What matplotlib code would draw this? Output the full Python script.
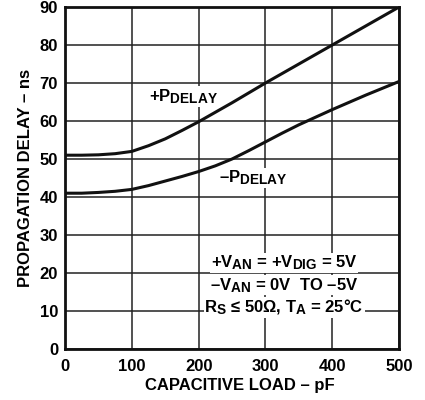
import matplotlib
matplotlib.use("Agg")
import matplotlib.pyplot as plt
import matplotlib._mathtext as mathtext_internal

# capacitive load (pF) and delays (ns)
load_pf = [0, 25, 50, 75, 100, 125, 150, 175, 200, 225, 250, 275, 300,
           325, 350, 375, 400, 425, 450, 475, 500]
pos_delay = [51, 51, 51.1, 51.4, 52, 53.5, 55.3, 57.5, 59.8, 62.3, 64.8, 67.4, 70,
             72.5, 75, 77.5, 80, 82.5, 85, 87.5, 90]
neg_delay = [41, 41, 41.2, 41.5, 42, 43, 44.2, 45.4, 46.7, 48.2, 50, 52.2, 54.5,
             56.8, 59, 61, 63, 64.9, 66.8, 68.6, 70.4]
x_ticks = [0, 100, 200, 300, 400, 500]
y_ticks = [0, 10, 20, 30, 40, 50, 60, 70, 80, 90]

plt.rcParams['font.family'] = ['Liberation Sans', 'DejaVu Sans']
plt.rcParams['font.weight'] = 'bold'
plt.rcParams['mathtext.fontset'] = 'custom'
plt.rcParams['mathtext.rm'] = 'Liberation Sans:bold'
plt.rcParams['mathtext.bf'] = 'Liberation Sans:bold'
plt.rcParams['mathtext.it'] = 'Liberation Sans:bold'
# subscripts in the reference are only a little smaller than the main text
mathtext_internal.SHRINK_FACTOR = 0.82

fig = plt.figure(figsize=(4.25, 4), dpi=100)
ax = fig.add_axes([0.153, 0.1275, 0.786, 0.855])

ax.plot(load_pf, pos_delay, color='#111111', lw=2.2, zorder=3)
ax.plot(load_pf, neg_delay, color='#111111', lw=2.2, zorder=3)

ax.set_xlim(0, 500)
ax.set_ylim(0, 90)
ax.set_xticks(x_ticks)
ax.set_yticks(y_ticks)
ax.tick_params(length=0, labelsize=12)
ax.tick_params(axis='x', pad=7)
ax.tick_params(axis='y', pad=5)
for lab in ax.get_xticklabels() + ax.get_yticklabels():
    lab.set_fontweight('bold')
ax.grid(True, color='#222222', lw=1.1)
ax.set_axisbelow(True)
for s in ax.spines.values():
    s.set_linewidth(2)
    s.set_color('#111111')

ax.set_xlabel('CAPACITIVE LOAD – pF', fontsize=12, fontweight='bold', labelpad=3)
ax.xaxis.label.set_x(0.524)
ax.set_ylabel('PROPAGATION DELAY – ns', fontsize=12, fontweight='bold', labelpad=5)

box = dict(facecolor='white', edgecolor='none', pad=0.6)
kw = dict(fontsize=12, ha='center', va='center', fontweight='bold', bbox=box, zorder=4)

ax.text(177, 66.4, r'+P$_{\mathrm{DELAY}}$', **kw)
ax.text(282, 45, r'–P$_{\mathrm{DELAY}}$', **kw)

ax.text(328, 22.6, r'+V$_{\mathrm{AN}}$ = +V$_{\mathrm{DIG}}$ = 5V', **kw)
ax.text(328, 16.8, r'–V$_{\mathrm{AN}}$ = 0V  TO –5V', **kw)
ax.text(328, 11, r'R$_{\mathrm{S}}$ ≤ 50Ω, T$_{\mathrm{A}}$ = 25°C', **kw)

fig.savefig('out.png', dpi=100)
